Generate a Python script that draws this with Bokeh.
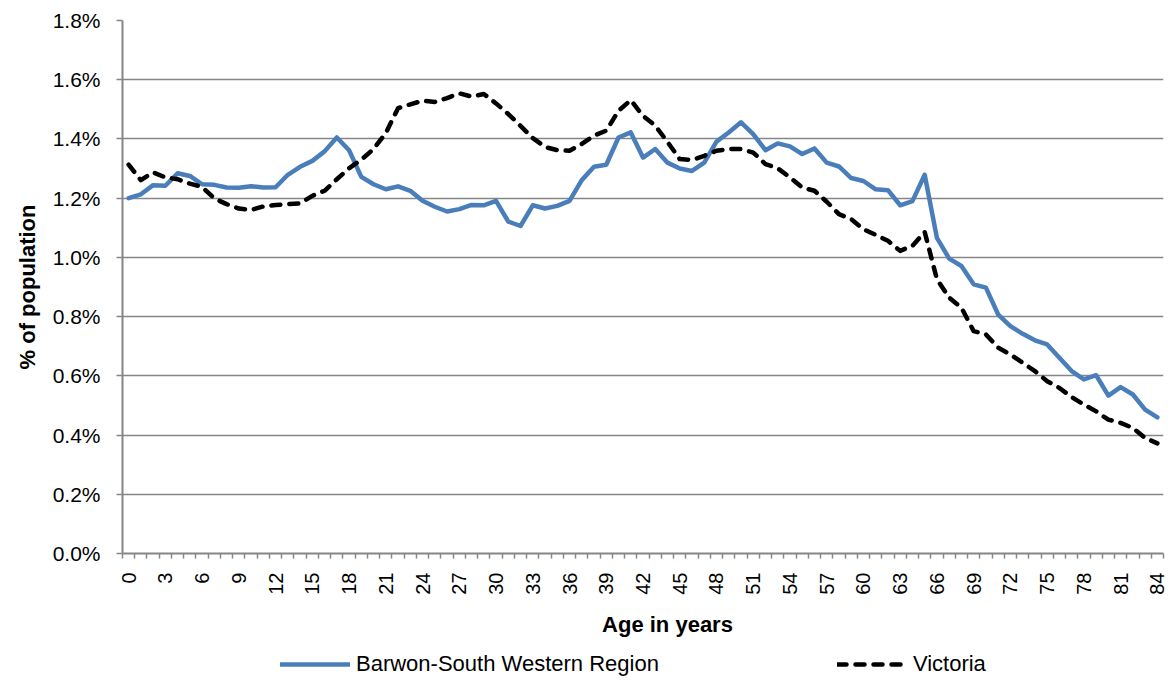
import math
from bokeh.plotting import figure
from bokeh.layouts import column
from bokeh.models import (FixedTicker, PrintfTickFormatter, Label, Legend, LegendItem,
                          Range1d, ColumnDataSource)
from bokeh.embed import file_html
from bokeh.resources import INLINE

ages = list(range(0, 85))
age_tick_labels = [str(a) for a in range(0, 85, 3)]

barwon = [1.200, 1.213, 1.244, 1.242, 1.284, 1.275, 1.247, 1.245, 1.236, 1.235,
          1.240, 1.236, 1.237, 1.279, 1.306, 1.326, 1.358, 1.405, 1.362, 1.272,
          1.247, 1.230, 1.240, 1.225, 1.191, 1.171, 1.155, 1.163, 1.177, 1.176,
          1.191, 1.121, 1.106, 1.176, 1.165, 1.174, 1.191, 1.261, 1.306, 1.313,
          1.405, 1.422, 1.337, 1.366, 1.320, 1.300, 1.292, 1.320, 1.391, 1.422,
          1.456, 1.416, 1.362, 1.385, 1.375, 1.349, 1.368, 1.320, 1.307, 1.268,
          1.258, 1.230, 1.227, 1.176, 1.190, 1.279, 1.066, 0.996, 0.971, 0.909,
          0.898, 0.807, 0.768, 0.742, 0.720, 0.706, 0.661, 0.616, 0.588, 0.602,
          0.533, 0.562, 0.537, 0.486, 0.460]

victoria = [1.313, 1.261, 1.287, 1.270, 1.264, 1.249, 1.238, 1.199, 1.180, 1.165,
            1.160, 1.172, 1.177, 1.180, 1.182, 1.208, 1.225, 1.264, 1.301, 1.330,
            1.366, 1.420, 1.504, 1.517, 1.529, 1.525, 1.538, 1.554, 1.543, 1.552,
            1.520, 1.484, 1.444, 1.403, 1.373, 1.362, 1.360, 1.383, 1.411, 1.428,
            1.495, 1.531, 1.478, 1.445, 1.390, 1.332, 1.329, 1.343, 1.360, 1.366,
            1.366, 1.354, 1.315, 1.301, 1.270, 1.236, 1.225, 1.188, 1.146, 1.129,
            1.095, 1.076, 1.056, 1.022, 1.039, 1.086, 0.926, 0.864, 0.830, 0.751,
            0.740, 0.695, 0.672, 0.644, 0.616, 0.582, 0.559, 0.528, 0.503, 0.480,
            0.452, 0.441, 0.424, 0.390, 0.372]

series_names = ["Barwon-South Western Region", "Victoria"]
y_ticks = [0.0, 0.2, 0.4, 0.6, 0.8, 1.0, 1.2, 1.4, 1.6, 1.8]

FONT = "Liberation Sans"
GRID = "#868686"
BLUE = "#4A7EBB"
DASH = "9 9"

# ---------------- main chart ----------------
p = figure(width=1173, height=600, output_backend="svg", toolbar_location=None,
           x_range=Range1d(-0.5, 84.5), y_range=Range1d(0, 1.8),
           min_border_left=122, min_border_right=10, min_border_top=20,
           min_border_bottom=47)
p.outline_line_color = None
p.background_fill_color = "white"

src = ColumnDataSource(dict(age=ages, barwon=barwon, victoria=victoria))
r1 = p.line("age", "barwon", source=src, line_color=BLUE, line_width=4.5,
            line_join="round", line_cap="round")
r2 = p.line("age", "victoria", source=src, line_color="black", line_width=4.5,
            line_dash=DASH, line_join="round", line_cap="round")

xa = p.xaxis[0]
xa.ticker = FixedTicker(ticks=list(range(0, 85, 3)),
                        minor_ticks=[a - 0.5 for a in range(0, 86)])
xa.major_label_overrides = {a: lbl for a, lbl in zip(range(0, 85, 3), age_tick_labels)}
xa.major_label_orientation = math.pi / 2
xa.major_tick_out = 0
xa.major_tick_in = 0
xa.minor_tick_out = 5
xa.minor_tick_in = 0
xa.minor_tick_line_color = GRID
xa.minor_tick_line_width = 1.5
xa.axis_line_color = GRID
xa.axis_line_width = 2
xa.major_label_standoff = 14
xa.major_label_text_font = FONT
xa.major_label_text_font_size = "20px"
xa.major_label_text_color = "black"
p.xgrid.visible = False

ya = p.yaxis[0]
ya.ticker = FixedTicker(ticks=y_ticks, minor_ticks=[])
ya.formatter = PrintfTickFormatter(format="%.1f%%")
ya.major_tick_out = 6
ya.major_tick_in = 0
ya.major_tick_line_color = GRID
ya.major_tick_line_width = 1.5
ya.axis_line_color = GRID
ya.axis_line_width = 2
ya.major_label_standoff = 16
ya.major_label_text_font = FONT
ya.major_label_text_font_size = "21px"
ya.major_label_text_color = "black"
ya.axis_label = "% of population"
ya.axis_label_standoff = 10
ya.axis_label_text_font = FONT
ya.axis_label_text_font_size = "22px"
ya.axis_label_text_font_style = "bold"
ya.axis_label_text_color = "black"
p.ygrid.ticker = FixedTicker(ticks=y_ticks)
p.ygrid.grid_line_color = GRID
p.ygrid.grid_line_width = 1.5

# ---------------- footer: x-axis title and legend ----------------
# the footer's frame is aligned with the main frame (page x 122..1163)
f = figure(width=1173, height=80, output_backend="svg", toolbar_location=None,
           x_range=Range1d(122, 1163), y_range=Range1d(0, 80),
           x_axis_type=None, y_axis_type=None,
           min_border_left=122, min_border_right=10, min_border_top=0,
           min_border_bottom=0)
f.outline_line_color = None
f.xgrid.visible = False
f.ygrid.visible = False

f.add_layout(Label(x=667, y=56, text="Age in years", text_align="center",
                   text_baseline="middle", text_font=FONT, text_font_size="22px",
                   text_font_style="bold", text_color="black"))

# legend proxies (kept outside the visible range so only their legend glyphs show)
k1 = f.line([0, 1], [-50, -50], line_color=BLUE, line_width=4.5, line_cap="round")
k2 = f.line([0, 1], [-50, -50], line_color="black", line_width=4.5,
            line_dash=DASH, line_cap="round")
legend = Legend(items=[LegendItem(label=series_names[0], renderers=[k1]),
                       LegendItem(label=series_names[1], renderers=[k2])],
                location=(158, 3), orientation="horizontal",
                glyph_width=70, glyph_height=24, label_height=24,
                label_standoff=6, padding=0, margin=0, spacing=178,
                border_line_alpha=0, background_fill_alpha=0,
                label_text_font=FONT, label_text_font_size="22px",
                label_text_color="black")
f.add_layout(legend)

layout = column(p, f, spacing=0)
open("out.html", "w").write(file_html(layout, INLINE))
